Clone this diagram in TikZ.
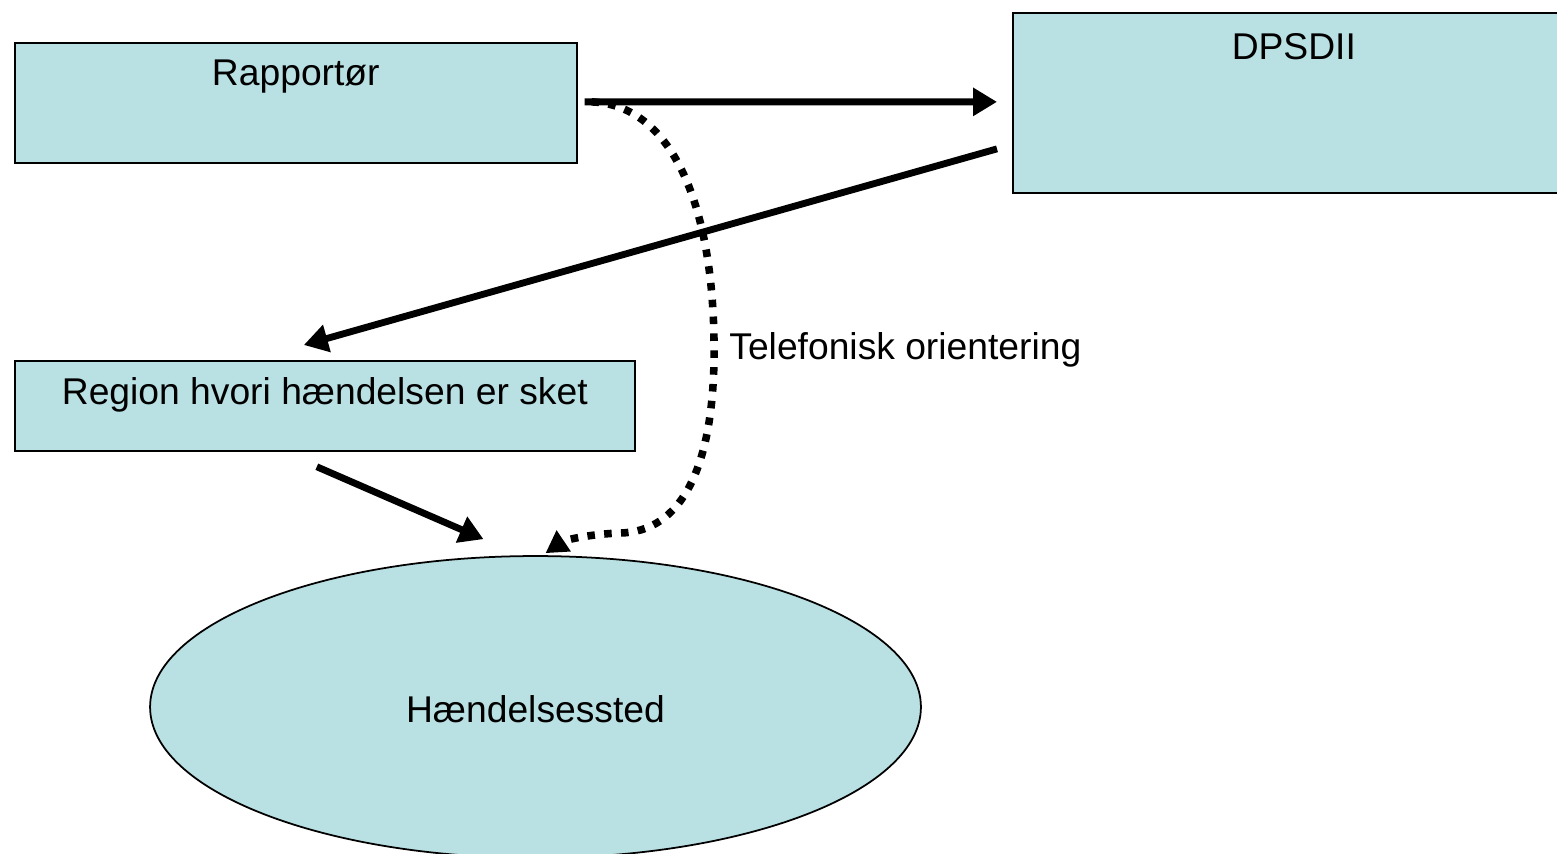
\documentclass[tikz,border=0pt]{standalone}
\usepackage{fontspec}
\setmainfont{Liberation Sans}
\usepackage{tikz}
\usetikzlibrary{positioning,calc,arrows.meta,shapes.geometric}
\definecolor{boxblue}{RGB}{185,224,227}
\tikzset{box/.style = {rectangle,draw,fill=boxblue,line width=1pt,inner sep=0pt},
         site/.style = {ellipse,draw,fill=boxblue,line width=1pt,inner sep=0pt},
         lbl/.style = {font=\fontsize{21.2}{25}\selectfont,inner sep=0pt},
         arr/.style = {line width=3.9pt,-{Triangle[length=0.48cm,width=0.54cm]}},
         dotarr/.style = {line width=4.3pt,dash pattern=on 4.3pt off 5.3pt,-{Triangle[length=0.44cm,width=0.48cm]}}}

\begin{document}
\begin{tikzpicture}[x=0.02cm,y=-0.02cm]
        \useasboundingbox (0,0) rectangle (1557,853);
        \clip (0,0) rectangle (1557,853);
        \node [box,anchor=north west,minimum width=11.24cm,minimum height=2.4cm] (rap) at (14,42) {};
        \node [box,anchor=north west,minimum width=11.24cm,minimum height=3.6cm] (dps) at (1012,12) {};
        \node [box,anchor=north west,minimum width=12.4cm,minimum height=1.8cm] (reg) at (14,360) {};
        \node [site,minimum width=15.42cm,minimum height=6.04cm] (sted) at (535.5,707) {};
        \node [lbl] (raptxt) at ($(rap.north)+(0,35)$) {Rapportør};
        \node [lbl] (dpstxt) at ($(dps.north)+(0,35)$) {DPSDII};
        \node [lbl] (regtxt) at ($(reg.north)+(0,35)$) {Region hvori hændelsen er sket};
        \node [lbl] (stedtxt) at ($(sted.center)+(0,2)$) {Hændelsessted};
        \node [lbl,anchor=west] (tel) at (729,350) {Telefonisk orientering};
        \draw [arr] ($(rap.east)+(7,-1)$) -- ($(dps.west)+(-15,-1)$);
        \draw [arr] ($(dps.west)+(-15,46)$) -- ($(reg.north)+(-21,-15)$);
        \draw [arr] ($(reg.south)+(-8,15)$) -- ($(sted.north)+(-52,-16)$);
        \draw [dotarr] ($(rap.east)+(14,-1)$) .. controls (670,105) and (712,200) .. (714,340)
            .. controls (716,470) and (680,532) .. (620,533)
            .. controls (590,534) and (565,540) .. ($(sted.north)+(10,-2)$);
\end{tikzpicture}
\end{document}
